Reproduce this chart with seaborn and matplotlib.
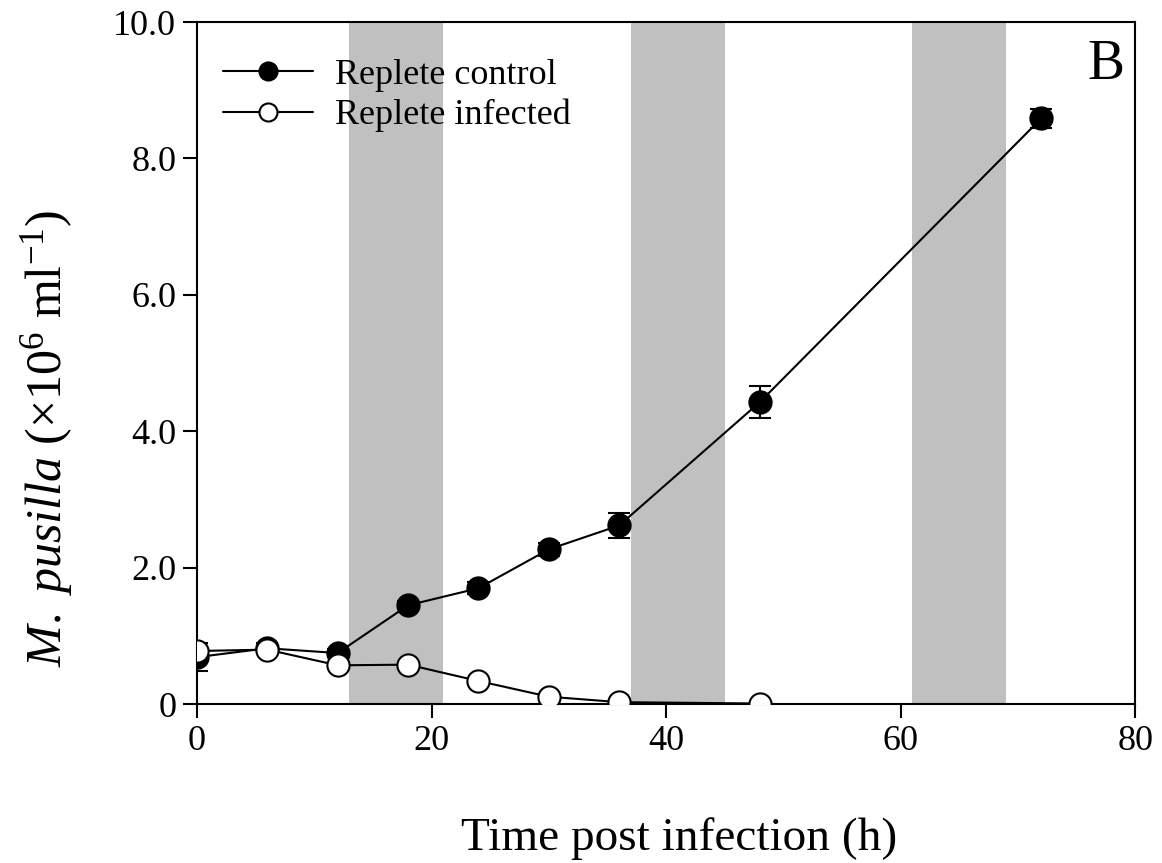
import numpy as np
import pandas as pd
import matplotlib
matplotlib.use('Agg')
import matplotlib.pyplot as plt
import seaborn as sns

# data
hours = [0, 6, 12, 18, 24, 30, 36, 48, 72]
control = [0.69, 0.82, 0.75, 1.45, 1.70, 2.27, 2.62, 4.43, 8.59]
control_err = [0.20, 0.07, 0.06, 0.06, 0.09, 0.10, 0.19, 0.24, 0.14]
hours_inf = [0, 6, 12, 18, 24, 30, 36, 48]
infected = [0.78, 0.80, 0.57, 0.58, 0.34, 0.11, 0.03, 0.01]
infected_err = [0.03, 0.03, 0.03, 0.03, 0.03, 0.02, 0.01, 0.01]
dark_periods = [(13, 21), (37, 45), (61, 69)]

sns.set_style('ticks')
plt.rcParams['font.family'] = ['Liberation Serif', 'DejaVu Serif']
plt.rcParams['mathtext.fontset'] = 'custom'
plt.rcParams['mathtext.rm'] = 'Liberation Serif'
plt.rcParams['mathtext.it'] = 'Liberation Serif:italic'
for key in ['text.color', 'axes.labelcolor', 'xtick.color', 'ytick.color', 'axes.edgecolor']:
    plt.rcParams[key] = 'black'

fig = plt.figure(figsize=(11.62, 8.63), dpi=100)
ax = fig.add_axes([0.1695, 0.184, 0.8075, 0.7905])

# dark periods
for start, end in dark_periods:
    ax.axvspan(start, end, color='#c0c0c0', lw=0, zorder=0)

df_c = pd.DataFrame({'hours': hours, 'value': control})
df_i = pd.DataFrame({'hours': hours_inf, 'value': infected})

ax.errorbar(hours, control, yerr=control_err, fmt='none', ecolor='black',
            elinewidth=1.5, capsize=8, capthick=1.5, zorder=2)
sns.lineplot(data=df_c, x='hours', y='value', ax=ax, color='black', lw=1.5,
             marker='o', markersize=16, markerfacecolor='black',
             markeredgecolor='black', markeredgewidth=1.5,
             label='Replete control', zorder=3)
ax.errorbar(hours_inf, infected, yerr=infected_err, fmt='none', ecolor='black',
            elinewidth=1.5, capsize=8, capthick=1.5, zorder=4)
sns.lineplot(data=df_i, x='hours', y='value', ax=ax, color='black', lw=1.5,
             marker='o', markersize=16, markerfacecolor='white',
             markeredgecolor='black', markeredgewidth=1.5,
             label='Replete infected', zorder=5)

ax.set_xlim(0, 80)
ax.set_ylim(0, 10)
ax.set_xticks([0, 20, 40, 60, 80])
ax.set_yticks([0, 2, 4, 6, 8, 10])
ax.set_yticklabels(['0', '2.0', '4.0', '6.0', '8.0', '10.0'])
ax.tick_params(axis='both', direction='out', length=10, width=1.5,
               labelsize=26, pad=5)
for sp in ax.spines.values():
    sp.set_linewidth(1.5)
    sp.set_visible(True)

ax.set_xlabel('Time post infection (h)', fontsize=34)
ax.xaxis.set_label_coords(0.514, -0.165)
ax.set_ylabel(r'$\it{M.\ pusilla}$ ($\times$10$^{6}$ ml$^{\mathrm{-1}}$)', fontsize=36)
ax.yaxis.set_label_coords(-0.13, 0.39)

ax.text(0.988, 0.975, 'B', transform=ax.transAxes, fontsize=40,
        ha='right', va='top')

leg = ax.legend(loc='upper left', frameon=False, fontsize=26,
                handlelength=2.5, handletextpad=0.6, labelspacing=0.2,
                borderaxespad=0.0, bbox_to_anchor=(0.012, 0.968))
for h in leg.legend_handles:
    h.set_markersize(13)

fig.savefig('out.png', dpi=100)
